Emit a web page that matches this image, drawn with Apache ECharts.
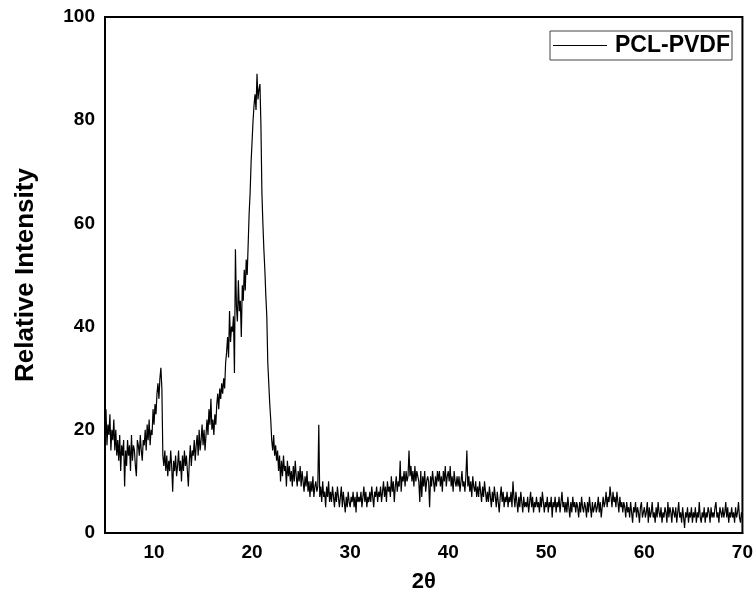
<!DOCTYPE html>
<html>
<head>
<meta charset="utf-8">
<script src="https://cdn.jsdelivr.net/npm/echarts@6/dist/echarts.min.js"></script>
<style>html,body{margin:0;padding:0;background:#fff;}#c{width:756px;height:604px;}</style>
</head>
<body>
<div id="c"></div>
<script>
// 2θ sampling of the pattern (degrees)
const angleStart = 5.0;
const angleStep = 0.1;
// Relative intensity, one row per degree (5.0 … 70.0)
const intensity = [
  22, 24, 17, 21, 19, 23, 16, 20, 18, 22,
  16, 20, 15, 18, 14, 19, 12, 17, 15, 18,
  9, 16, 13, 18, 15, 17, 12, 19, 14, 17,
  16, 13, 11, 18, 17, 15, 19, 16, 14, 18,
  17, 20, 16, 21, 18, 22, 17, 20, 19, 24,
  21, 25, 23, 27, 29, 26, 30, 32, 28, 15,
  13, 16, 12, 15, 11, 14, 12, 16, 13, 8,
  14, 12, 15, 11, 13, 16, 12, 14, 10, 15,
  12, 16, 13, 15, 12, 9, 14, 17, 13, 16,
  15, 18, 14, 17, 19, 15, 20, 16, 18, 21,
  17, 20, 16, 19, 22, 19, 24, 21, 26, 20,
  22, 19, 23, 21, 25, 27, 24, 28, 26, 29,
  27, 30, 28, 33, 35, 38, 34, 43, 37, 40,
  39, 42, 31, 55, 44, 41, 49, 43, 45, 38,
  48, 45, 51, 47, 53, 50, 56, 62, 66, 72,
  76, 80, 83, 85, 82, 89, 84, 86, 87, 79,
  66, 60, 55, 51, 46, 42, 33, 29, 25, 22,
  18, 16, 19, 15, 17, 14, 16, 12, 15, 10,
  14, 11, 15, 12, 13, 9, 14, 11, 13, 10,
  12, 9, 13, 10, 14, 11, 9, 12, 10, 13,
  9, 12, 10, 8, 11, 9, 12, 8, 10, 7,
  10, 8, 11, 7, 9, 10, 8, 9, 21, 7,
  9, 6, 10, 7, 8, 5, 9, 7, 10, 6,
  8, 6, 9, 7, 5, 8, 6, 9, 7, 5,
  7, 9, 5, 8, 6, 4, 7, 5, 8, 6,
  5, 7, 6, 8, 5, 7, 4, 8, 6, 7,
  6, 8, 5, 7, 9, 6, 8, 5, 7, 6,
  8, 6, 9, 7, 5, 8, 7, 9, 6, 8,
  7, 9, 6, 8, 10, 7, 9, 6, 10, 8,
  9, 7, 11, 8, 10, 6, 9, 11, 8, 10,
  9, 14, 8, 11, 10, 12, 9, 12, 10, 11,
  16, 11, 13, 10, 12, 9, 13, 10, 12, 11,
  10, 6, 12, 7, 11, 9, 12, 8, 10, 11,
  10, 5, 11, 9, 12, 10, 8, 11, 9, 12,
  10, 12, 9, 11, 8, 12, 10, 13, 9, 11,
  12, 10, 13, 9, 11, 8, 12, 10, 9, 11,
  9, 11, 8, 10, 12, 9, 10, 8, 11, 16,
  9, 11, 8, 10, 7, 11, 9, 8, 10, 7,
  9, 7, 10, 8, 6, 9, 7, 10, 8, 6,
  8, 6, 9, 7, 5, 8, 6, 9, 7, 5,
  8, 6, 4, 7, 9, 6, 8, 5, 7, 6,
  8, 5, 7, 6, 8, 5, 10, 7, 5, 8,
  6, 4, 7, 5, 8, 6, 4, 7, 5, 6,
  5, 7, 4, 6, 8, 5, 7, 4, 6, 5,
  7, 5, 6, 4, 7, 5, 8, 6, 4, 6,
  5, 7, 4, 6, 5, 7, 3, 6, 5, 7,
  4, 6, 5, 7, 4, 6, 8, 5, 6, 4,
  6, 4, 7, 5, 3, 6, 4, 7, 5, 6,
  4, 6, 5, 3, 6, 4, 7, 5, 4, 6,
  5, 3, 6, 4, 7, 5, 3, 6, 4, 5,
  6, 4, 5, 7, 4, 6, 3, 5, 7, 5,
  6, 8, 5, 7, 6, 9, 7, 5, 8, 6,
  7, 5, 8, 6, 4, 7, 5, 6, 4, 6,
  5, 3, 6, 4, 5, 3, 6, 4, 2, 5,
  4, 6, 3, 5, 4, 2, 5, 6, 3, 4,
  5, 3, 4, 6, 2, 5, 3, 4, 6, 3,
  4, 2, 5, 3, 6, 4, 3, 5, 2, 4,
  3, 5, 4, 2, 6, 3, 5, 4, 2, 5,
  4, 3, 5, 2, 4, 6, 3, 4, 2, 5,
  3, 1, 4, 3, 5, 2, 4, 3, 5, 2,
  4, 3, 5, 2, 4, 3, 6, 3, 2, 4,
  3, 5, 2, 4, 3, 5, 4, 2, 5, 3,
  4, 3, 5, 6, 3, 4, 2, 5, 4, 3,
  5, 3, 4, 6, 3, 5, 2, 4, 3, 5,
  3, 4, 2, 5, 3, 4, 6, 3, 2, 4,
  3
];
const xTicks = [10, 20, 30, 40, 50, 60, 70];
const seriesName = 'PCL-PVDF';
const xTitle = '2θ';
const yTitle = 'Relative Intensity';

const points = intensity.map((v, i) => [+(angleStart + i * angleStep).toFixed(2), v]);

const font = 'Arial, "Liberation Sans", sans-serif';
const chart = echarts.init(document.getElementById('c'), null, {renderer: 'canvas'});
chart.setOption({
  animation: false,
  backgroundColor: '#fff',
  grid: {left: 105, right: 13, top: 17, bottom: 71, show: true, borderColor: '#000', borderWidth: 2, backgroundColor: 'transparent'},
  legend: {
    show: true,
    right: 24, top: 31,
    data: [seriesName],
    icon: 'path://M0,0 L54,0 L54,1 L0,1 Z',
    itemWidth: 54, itemHeight: 1,
    itemGap: 0,
    padding: [3, 2, 3, 3],
    borderColor: '#444', borderWidth: 1,
    backgroundColor: '#fff',
    textStyle: {fontFamily: font, fontWeight: 'bold', fontSize: 23, color: '#000', padding: [0, 0, 0, 3]},
    itemStyle: {color: '#000'}
  },
  xAxis: {
    type: 'value', min: 5, max: 70,
    name: xTitle, nameLocation: 'middle', nameGap: 38,
    nameTextStyle: {fontFamily: font, fontWeight: 'bold', fontSize: 22, color: '#000'},
    axisLine: {show: true, lineStyle: {color: '#000', width: 2}},
    axisTick: {show: false},
    splitLine: {show: false},
    axisLabel: {customValues: xTicks, fontFamily: font, fontWeight: 'bold', fontSize: 19, color: '#000', margin: 10}
  },
  yAxis: {
    type: 'value', min: 0, max: 100, interval: 20,
    name: yTitle, nameLocation: 'middle', nameGap: 66, nameRotate: 90,
    nameTextStyle: {fontFamily: font, fontWeight: 'bold', fontSize: 26, color: '#000'},
    axisLine: {show: true, lineStyle: {color: '#000', width: 2}},
    axisTick: {show: false},
    splitLine: {show: false},
    axisLabel: {fontFamily: font, fontWeight: 'bold', fontSize: 19, color: '#000', margin: 10}
  },
  series: [{
    name: seriesName,
    type: 'line',
    data: points,
    symbol: 'none',
    sampling: null,
    lineStyle: {color: '#000', width: 1.2},
    itemStyle: {color: '#000'}
  }]
});
</script>
</body>
</html>
